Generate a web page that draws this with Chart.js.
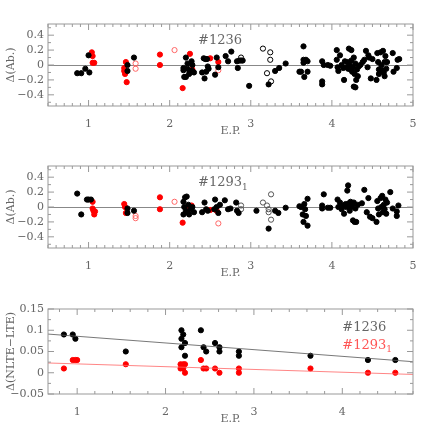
<!DOCTYPE html><html><head><script src="https://cdn.jsdelivr.net/npm/chart.js"></script>
<style>body{margin:0;background:#fff;width:436px;height:436px;position:relative;overflow:hidden}canvas{position:absolute;left:0}</style></head><body>
<canvas id="c1" style="top:0" width="436" height="142"></canvas>
<canvas id="c2" style="top:142px" width="436" height="142"></canvas>
<canvas id="c3" style="top:285px" width="436" height="145"></canvas>
<script>
const abTicks=[-0.4,-0.2,0,0.2,0.4];
const abLabels=['\u22120.4','\u22120.2','0','0.2','0.4'];
const epTicks=[1,2,3,4,5];
const nlteTicks=[-0.05,0,0.05,0.1,0.15];
const nlteLabels=['\u22120.05','0','0.05','0.1','0.15'];
const p1Black=[[0.86,-0.11],[0.91,-0.11],[0.96,-0.05],[1.0,0.13],[1.01,-0.1],[1.48,0.0],[1.48,-0.08],[1.56,0.1],
[2.17,-0.04],[2.17,-0.07],[2.18,-0.16],[2.2,-0.16],[2.2,0.1],[2.22,0.02],[2.22,-0.05],[2.24,-0.12],[2.25,-0.08],[2.27,0.05],[2.28,-0.08],[2.28,0.0],[2.3,-0.1],
[2.4,-0.1],[2.42,0.09],[2.43,-0.18],[2.44,0.08],[2.45,-0.09],[2.46,0.08],[2.47,-0.02],[2.48,-0.05],[2.56,-0.13],[2.58,0.1],[2.6,-0.03],
[2.69,0.12],[2.72,0.05],[2.76,0.18],[2.83,0.05],[2.84,-0.04],[2.86,0.06],[2.9,0.06],[2.98,-0.28],
[3.22,-0.26],[3.3,-0.08],[3.35,-0.04],[3.43,0.02],
[3.6,-0.09],[3.62,-0.09],[3.65,0.25],[3.65,0.03],[3.65,0.07],[3.66,-0.16],[3.68,0.07],[3.7,-0.09],[3.7,0.05],
[3.88,0.05],[3.88,-0.22],[3.88,-0.26],[3.9,0.0],[3.95,0.0],[3.98,-0.01],
[4.06,0.2],[4.06,0.07],[4.07,-0.03],[4.08,-0.08],[4.1,0.13],[4.12,0.0],[4.14,-0.04],[4.15,-0.2],[4.16,0.05],[4.18,-0.03],[4.19,0.04],[4.2,-0.05],[4.21,0.22],[4.22,0.0],[4.23,-0.06],[4.24,0.2],[4.24,0.06],[4.25,-0.09],[4.26,-0.03],[4.27,0.1],[4.27,-0.29],[4.28,-0.12],[4.29,-0.3],[4.29,0.02],[4.3,-0.2],[4.31,-0.06],[4.32,-0.15],[4.33,-0.02],[4.35,0.0],[4.38,0.04],[4.4,0.07],[4.42,0.19],[4.44,-0.03],[4.45,0.13],[4.46,0.1],[4.48,-0.18],[4.5,0.08],
[4.55,-0.2],[4.56,0.16],[4.57,0.04],[4.58,-0.12],[4.58,-0.06],[4.6,0.17],[4.61,0.0],[4.62,-0.07],[4.63,0.19],[4.64,-0.1],[4.65,0.04],[4.65,-0.15],[4.66,0.12],[4.67,-0.05],[4.68,0.04],[4.75,0.16],[4.76,-0.09],[4.8,-0.04],[4.81,0.07],[4.83,0.08]];
const p1BlackOpen=[[2.88,0.1],[2.88,0.06],[3.15,0.22],[3.2,-0.11],[3.24,0.07],[3.24,0.17],[3.25,-0.22]];
const p1Red=[[1.04,0.17],[1.05,0.12],[1.05,0.03],[1.07,0.03],[1.44,-0.04],[1.44,-0.08],[1.45,-0.12],[1.46,0.04],[1.47,-0.23],[1.88,0.14],[1.88,0.0],[2.16,-0.31],[2.25,0.15],[2.28,-0.06],[2.5,0.09],[2.6,0.04]];
const p1RedOpen=[[1.58,0.02],[1.58,-0.05],[2.06,0.2],[2.6,-0.07]];
const p2Black=[[0.86,0.18],[0.91,-0.1],[0.98,0.1],[1.0,0.1],[1.03,0.1],[1.48,-0.02],[1.48,-0.08],[1.56,-0.05],
[2.17,0.07],[2.17,-0.1],[2.18,0.0],[2.19,0.13],[2.2,-0.05],[2.21,0.14],[2.22,-0.07],[2.23,0.03],[2.24,-0.1],[2.26,-0.03],[2.28,0.0],[2.3,-0.07],
[2.4,-0.07],[2.43,0.06],[2.45,-0.03],[2.47,-0.05],[2.55,-0.03],[2.56,0.1],[2.58,0.0],[2.6,-0.08],[2.62,0.03],[2.68,0.09],[2.72,-0.03],[2.75,-0.02],[2.82,0.06],[2.83,-0.05],[2.85,-0.08],
[3.07,-0.05],[3.22,-0.29],[3.3,-0.05],[3.34,-0.08],[3.43,-0.01],
[3.6,0.01],[3.62,0.0],[3.64,-0.1],[3.65,-0.2],[3.66,0.04],[3.67,-0.03],[3.68,-0.12],[3.7,0.11],[3.7,-0.25],
[3.88,0.02],[3.88,-0.02],[3.9,0.17],[3.95,-0.01],[3.98,-0.01],
[4.07,0.1],[4.08,0.0],[4.1,0.06],[4.12,-0.03],[4.14,0.02],[4.15,-0.09],[4.17,0.04],[4.18,0.0],[4.19,0.22],[4.2,0.29],[4.21,0.05],[4.22,-0.05],[4.23,0.07],[4.24,0.0],[4.25,0.03],[4.26,-0.18],[4.27,0.06],[4.28,-0.2],[4.29,-0.02],[4.3,-0.2],[4.32,0.03],[4.37,0.05],[4.4,0.23],[4.43,-0.07],[4.45,0.12],[4.47,-0.13],[4.5,-0.15],
[4.55,-0.2],[4.56,0.08],[4.57,-0.02],[4.58,-0.1],[4.6,0.12],[4.61,0.0],[4.62,0.15],[4.63,-0.07],[4.64,0.03],[4.65,-0.03],[4.66,0.1],[4.67,-0.09],[4.68,0.06],[4.72,0.2],[4.75,-0.02],[4.8,-0.06],[4.8,-0.12],[4.82,0.02]];
const p2BlackOpen=[[2.88,0.02],[2.88,-0.03],[3.15,0.06],[3.2,0.02],[3.22,-0.03],[3.22,-0.07],[3.25,-0.17],[3.25,0.17]];
const p2Red=[[1.05,0.07],[1.05,-0.02],[1.06,-0.05],[1.07,-0.1],[1.08,-0.06],[1.44,0.04],[1.45,0.0],[1.46,-0.08],[1.88,0.13],[1.88,-0.03],[2.16,-0.21],[2.25,0.0],[2.27,0.02],[2.5,-0.04],[2.58,-0.05]];
const p2RedOpen=[[1.58,-0.12],[1.58,-0.15],[2.06,0.07],[2.6,-0.22]];
const p3Black=[[0.85,0.09],[0.95,0.09],[0.98,0.08],[1.55,0.05],[2.18,0.1],[2.18,0.08],[2.18,0.06],[2.2,0.09],[2.22,0.07],[2.22,0.04],[2.4,0.1],[2.43,0.06],[2.46,0.05],[2.56,0.07],[2.61,0.06],[2.61,0.05],[2.83,0.05],[2.83,0.04],[3.64,0.04],[4.29,0.03],[4.6,0.03]];
const p3Red=[[0.85,0.01],[0.95,0.03],[0.98,0.03],[1.0,0.03],[1.55,0.02],[2.17,0.02],[2.17,0.01],[2.2,0.02],[2.2,0.01],[2.22,0.02],[2.22,0.0],[2.4,0.03],[2.43,0.01],[2.46,0.01],[2.56,0.01],[2.61,0.0],[2.83,0.01],[2.83,0.0],[3.64,0.01],[4.29,0.0],[4.6,0.0]];
const p3BlackFit=[[0.67,0.091],[4.8,0.026]];
const p3RedFit=[[0.67,0.023],[4.8,-0.004]];

const GREY='#666';
const FONT={family:'DejaVu Serif',size:11};
const pts=a=>a.map(p=>({x:p[0],y:p[1]}));
function sc(data,color,open){return {type:'scatter',data:pts(data),pointRadius:2.6,pointBorderWidth:1,
 pointBackgroundColor:open?'rgba(0,0,0,0)':color,pointBorderColor:color,showLine:false};}
function frame(minors,yt,yl,ytitle){return {id:'frame',afterDraw(ch){const c=ch.ctx,a=ch.chartArea;c.save();c.strokeStyle='#999';c.lineWidth=1;
 c.strokeRect(a.left,a.top,a.right-a.left,a.bottom-a.top);
 const xs=ch.scales.x,ys=ch.scales.y;
 for(let v=Math.ceil(xs.min*minors.x)/minors.x;v<=xs.max+1e-9;v+=1/minors.x){const px=xs.getPixelForValue(v);const maj=Math.abs(v-Math.round(v))<1e-6;const L=maj?6:3;
  c.beginPath();c.moveTo(px,a.bottom);c.lineTo(px,a.bottom-L);c.moveTo(px,a.top);c.lineTo(px,a.top+L);c.stroke();}
 for(let i=Math.ceil(ys.min/minors.y-1e-6);i*minors.y<=ys.max+1e-9;i++){const v=i*minors.y;const py=ys.getPixelForValue(v);const maj=i%minors.ym===0;const L=maj?6:3;
  c.beginPath();c.moveTo(a.left,py);c.lineTo(a.left+L,py);c.moveTo(a.right,py);c.lineTo(a.right-L,py);c.stroke();}
 c.fillStyle=GREY;c.font='11px DejaVu Serif';c.textAlign='right';c.textBaseline='middle';
 yt.forEach((v,i)=>c.fillText(yl[i],a.left-4,ys.getPixelForValue(v)));
 c.translate(11,(a.top+a.bottom)/2);c.rotate(-Math.PI/2);c.textAlign='center';c.fillText(ytitle,0,0);
 c.restore();}};}
function labels(list){return {id:'lbl',afterDatasetsDraw(ch){const c=ch.ctx;c.save();c.textBaseline='middle';
 list.forEach(l=>{const x=ch.scales.x.getPixelForValue(l.x),y=ch.scales.y.getPixelForValue(l.y);
  c.fillStyle=l.color;c.font='13px DejaVu Serif';c.fillText(l.t,x,y);
  if(l.sub){const w=c.measureText(l.t).width;c.font='9px DejaVu Serif';c.fillText(l.sub,x+w,y+5);}});c.restore();}};}
function opts(xmin,xmax,ymin,ymax,zero){return {responsive:false,animation:false,
 layout:{padding:{top:24,right:23,left:48,bottom:0}},plugins:{legend:{display:false},tooltip:{enabled:false}},
 scales:{x:{type:'linear',min:xmin,max:xmax,afterBuildTicks:s=>{s.ticks=epTicks.filter(v=>v>=xmin&&v<=xmax).map(v=>({value:v}))},
   grid:{display:false},border:{display:false},ticks:{color:GREY,font:FONT,padding:4,maxRotation:0,callback:v=>String(v)},
   title:{display:true,text:'E.P.',color:GREY,font:FONT,padding:{top:2}},afterFit:s=>{s.height=36}},
  y:{type:'linear',min:ymin,max:ymax,display:true,
   grid:{drawTicks:false,color:c=>zero&&c.tick&&Math.abs(c.tick.value)<1e-9?'#888':'rgba(0,0,0,0)'},border:{display:false},
   ticks:{display:false,stepSize:0.05},afterFit:s=>{s.width=0}}}};}
new Chart(document.getElementById('c1'),{type:'scatter',data:{datasets:[sc(p1Black,'#000'),sc(p1BlackOpen,'#000',true),sc(p1Red,'#f00'),sc(p1RedOpen,'#f66',true)]},
 options:opts(0.5,5,-0.55,0.55,true),plugins:[frame({x:10,y:0.1,ym:2},abTicks,abLabels,'\u0394(Ab.)'),labels([{x:2.35,y:0.33,t:'#1236',color:GREY}])]});
new Chart(document.getElementById('c2'),{type:'scatter',data:{datasets:[sc(p2Black,'#000'),sc(p2BlackOpen,'#555',true),sc(p2Red,'#f00'),sc(p2RedOpen,'#f66',true)]},
 options:opts(0.5,5,-0.55,0.55,true),plugins:[frame({x:10,y:0.1,ym:2},abTicks,abLabels,'\u0394(Ab.)'),labels([{x:2.35,y:0.33,t:'#1293',sub:'1',color:GREY}])]});
new Chart(document.getElementById('c3'),{type:'scatter',data:{datasets:[
 {type:'line',data:pts(p3BlackFit),borderColor:'#555',borderWidth:0.8,pointRadius:0},
 {type:'line',data:pts(p3RedFit),borderColor:'#f66',borderWidth:0.8,pointRadius:0},
 sc(p3Black,'#000'),sc(p3Red,'#f00')]},
 options:opts(0.67,4.8,-0.05,0.15,false),plugins:[frame({x:5,y:0.025,ym:2},nlteTicks,nlteLabels,'\u0394(NLTE\u2212LTE)'),labels([{x:4.0,y:0.107,t:'#1236',color:GREY},{x:4.0,y:0.065,t:'#1293',sub:'1',color:'#f55'}])]});
</script></body></html>
